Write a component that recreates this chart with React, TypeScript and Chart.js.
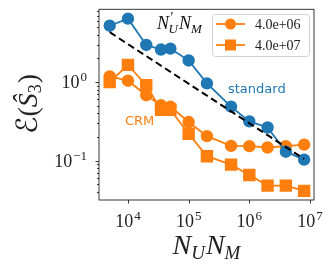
import React, { useEffect, useRef } from "react";
import { Chart, registerables } from "chart.js";

Chart.register(...registerables);

// ---- data ----
const nValues = [5e3, 1e4, 2e4, 3.5e4, 5e4, 1e5, 2e5, 5e5, 1e6, 2e6, 4e6, 8e6];
const standardErr = [5.2, 6.4, 2.96, 2.59, 2.66, 1.88, 0.96, 0.487, 0.316, 0.264, 0.13, 0.103];
const crm4e6Err = [1.18, 1.04, 0.68, 0.506, 0.487, 0.31, 0.205, 0.154, 0.153, 0.147, 0.153, 0.16];
const crm4e7Err = [1.0, 1.65, 0.91, 0.443, 0.443, 0.22, 0.114, 0.0891, 0.0656, 0.0482, 0.0482, 0.0413];
const refLineX = [5e3, 8e6];
const refLineY = [4.3, 0.105];

const xMajorTicks = [1e4, 1e5, 1e6, 1e7];
const xTickExp = ["4", "5", "6", "7"];
const yMajorTicks = [0.1, 1];
const yTickExp = ["\u22121", "0"];
const legendLabels = ["4.0e+06", "4.0e+07"];

const BLUE = "#1f77b4";
const ORANGE = "#ff7f0e";
const SERIF = "'Liberation Serif', 'DejaVu Serif', 'DejaVu Sans', serif";
const SANS = "'DejaVu Sans', sans-serif";

type Seg = { t: string; size: number; italic?: boolean; dy?: number; noAdvance?: boolean; dx?: number };

function segFont(s: Seg) {
  return `${s.italic ? "italic " : ""}${s.size}px ${SERIF}`;
}

function drawRich(ctx: CanvasRenderingContext2D, segs: Seg[], x: number, y: number, align: "left" | "center" | "right") {
  let total = 0;
  const widths: number[] = [];
  for (const s of segs) {
    ctx.font = segFont(s);
    const w = ctx.measureText(s.t).width;
    widths.push(w);
    if (!s.noAdvance) total += w + (s.dx || 0);
  }
  let cx = align === "left" ? x : align === "center" ? x - total / 2 : x - total;
  ctx.textAlign = "left";
  ctx.textBaseline = "alphabetic";
  segs.forEach((s, i) => {
    ctx.font = segFont(s);
    ctx.fillText(s.t, cx + (s.dx || 0), y + (s.dy || 0));
    if (!s.noAdvance) cx += widths[i] + (s.dx || 0);
  });
}

const decorPlugin = {
  id: "decor",
  afterDatasetsDraw(chart: any) {
    const ctx: CanvasRenderingContext2D = chart.ctx;
    const ca = chart.chartArea;
    const xs = chart.scales.x;
    const ys = chart.scales.y;
    ctx.save();
    // frame
    ctx.strokeStyle = "#222";
    ctx.lineWidth = 0.9;
    ctx.strokeRect(ca.left, ca.top, ca.right - ca.left, ca.bottom - ca.top);
    // x major ticks
    ctx.beginPath();
    xMajorTicks.forEach((v) => {
      const px = Math.round(xs.getPixelForValue(v)) + 0.5;
      ctx.moveTo(px, ca.bottom);
      ctx.lineTo(px, ca.bottom + 3.5);
    });
    // y ticks
    yMajorTicks.forEach((v) => {
      const py = Math.round(ys.getPixelForValue(v)) + 0.5;
      ctx.moveTo(ca.left, py);
      ctx.lineTo(ca.left - 3.5, py);
    });
    for (let d = -2; d <= 0; d++) {
      for (let k = 2; k <= 9; k++) {
        const v = k * Math.pow(10, d);
        if (v < ys.min || v > ys.max) continue;
        const py = Math.round(ys.getPixelForValue(v)) + 0.5;
        ctx.moveTo(ca.left, py);
        ctx.lineTo(ca.left - 2, py);
      }
    }
    ctx.stroke();

    // tick labels
    ctx.fillStyle = "#222";
    xMajorTicks.forEach((v, i) => {
      const px = xs.getPixelForValue(v);
      drawRich(ctx, [
        { t: "10", size: 18 },
        { t: xTickExp[i], size: 13, dy: -7, dx: 1 },
      ], px, 227, "center");
    });
    yMajorTicks.forEach((v, i) => {
      const py = ys.getPixelForValue(v);
      drawRich(ctx, [
        { t: "10", size: 18 },
        { t: yTickExp[i], size: 13, dy: -7, dx: 1 },
      ], 87, py + 6, "right");
    });

    // axis titles
    drawRich(ctx, [
      { t: "N", size: 28, italic: true },
      { t: "U", size: 19, italic: true, dy: 5 },
      { t: "N", size: 28, italic: true, dx: 1 },
      { t: "M", size: 19, italic: true, dy: 5 },
    ], (ca.left + ca.right) / 2, 254, "center");

    ctx.save();
    ctx.translate(37, 104);
    ctx.rotate(-Math.PI / 2);
    drawRich(ctx, [
      { t: "\u2130", size: 29 },
      { t: "(", size: 28 },
      { t: "\u015C", size: 28, italic: true },
      { t: "3", size: 18, dy: 4 },
      { t: ")", size: 28, dx: 1 },
    ], 0, 0, "center");
    ctx.restore();

    // annotations
    ctx.fillStyle = "#111";
    drawRich(ctx, [
      { t: "N", size: 18, italic: true },
      { t: "\u2032", size: 14, dy: -7, noAdvance: true, dx: 1.5 },
      { t: "U", size: 13, italic: true, dy: 4, dx: -0.5 },
      { t: "N", size: 18, italic: true, dx: 1 },
      { t: "M", size: 13, italic: true, dy: 4 },
    ], 157, 29, "left");

    ctx.fillStyle = BLUE;
    ctx.font = `13px ${SANS}`;
    ctx.textAlign = "left";
    ctx.textBaseline = "alphabetic";
    ctx.fillText("standard", 228, 93);
    ctx.fillStyle = ORANGE;
    ctx.fillText("CRM", 125, 125);

    // legend
    const lx = 212, ly = 14, lw = 97, lh = 42;
    ctx.beginPath();
    (ctx as any).roundRect(lx + 0.5, ly + 0.5, lw, lh, 3);
    ctx.fillStyle = "rgba(255,255,255,0.8)";
    ctx.fill();
    ctx.strokeStyle = "#d0d0d0";
    ctx.lineWidth = 1;
    ctx.stroke();
    const rows = [24, 45];
    const styles = ["circle", "rect"];
    rows.forEach((ry, i) => {
      ctx.strokeStyle = ORANGE;
      ctx.lineWidth = 1.8;
      ctx.beginPath();
      ctx.moveTo(216, ry);
      ctx.lineTo(245, ry);
      ctx.stroke();
      ctx.fillStyle = ORANGE;
      ctx.beginPath();
      if (styles[i] === "circle") {
        ctx.arc(230.5, ry, 5.5, 0, Math.PI * 2);
      } else {
        ctx.rect(225, ry - 5.5, 11, 11);
      }
      ctx.fill();
      ctx.fillStyle = "#222";
      drawRich(ctx, [{ t: legendLabels[i], size: 14 }], 255, ry + 5, "left");
    });
    ctx.restore();
  },
};

function toPoints(xs: number[], ys: number[]) {
  return xs.map((x, i) => ({ x, y: ys[i] }));
}

export default function App() {
  const ref = useRef<HTMLCanvasElement | null>(null);
  useEffect(() => {
    if (!ref.current) return;
    const chart = new Chart(ref.current, {
      type: "line",
      data: {
        datasets: [
          {
            label: "ref",
            data: toPoints(refLineX, refLineY),
            borderColor: "#000",
            borderDash: [7, 4],
            borderWidth: 2,
            pointRadius: 0,
          },
          {
            label: "standard",
            data: toPoints(nValues, standardErr),
            borderColor: BLUE,
            backgroundColor: BLUE,
            pointBackgroundColor: BLUE,
            pointBorderColor: BLUE,
            borderWidth: 1.8,
            pointRadius: 5.3,
            pointStyle: "circle",
          },
          {
            label: legendLabels[0],
            data: toPoints(nValues, crm4e6Err),
            borderColor: ORANGE,
            backgroundColor: ORANGE,
            pointBackgroundColor: ORANGE,
            pointBorderColor: ORANGE,
            borderWidth: 1.8,
            pointRadius: 5.3,
            pointStyle: "circle",
          },
          {
            label: legendLabels[1],
            data: toPoints(nValues, crm4e7Err),
            borderColor: ORANGE,
            backgroundColor: ORANGE,
            pointBackgroundColor: ORANGE,
            pointBorderColor: ORANGE,
            borderWidth: 1.8,
            pointRadius: 7.5,
            pointStyle: "rect",
          },
        ],
      },
      options: {
        responsive: false,
        animation: false,
        layout: { padding: { left: 99, right: 18, top: 6, bottom: 70 } },
        scales: {
          x: { type: "logarithmic", min: 3330, max: 1.164e7, display: false },
          y: { type: "logarithmic", min: 0.0316, max: 8.41, display: false },
        },
        plugins: { legend: { display: false }, tooltip: { enabled: false } },
        elements: { line: { tension: 0 } },
      },
      plugins: [decorPlugin],
    } as any);
    return () => chart.destroy();
  }, []);
  return (
    <div style={{ position: "fixed", left: 0, top: 0, width: 332, height: 270, background: "#fff" }}>
      <canvas ref={ref} width={332} height={270} style={{ width: 332, height: 270, display: "block" }} />
    </div>
  );
}
